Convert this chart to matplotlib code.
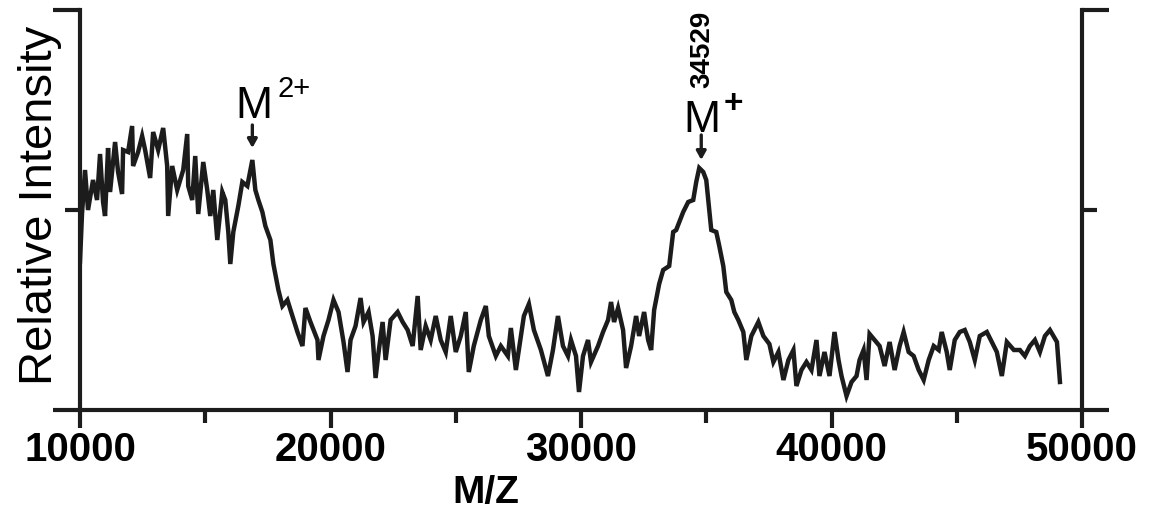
import matplotlib
matplotlib.use("Agg")
import matplotlib.pyplot as plt
from matplotlib.ticker import FixedLocator

plt.rcParams['font.family'] = ['Liberation Sans', 'DejaVu Sans']

# ---- data ----
mz = [10000, 10080, 10200, 10320, 10520, 10680, 10800, 10920, 11000, 11120,
      11200, 11400, 11520, 11680, 11720, 11920, 12080, 12120, 12320, 12480,
      12600, 12800, 12920, 13120, 13320, 13480, 13520, 13680, 13880, 14000,
      14120, 14280, 14320, 14480, 14600, 14720, 14920, 15080, 15200, 15320,
      15480, 15680, 15800, 15920, 16000, 16120, 16320, 16480, 16680, 16880,
      17000, 17120, 17280, 17400, 17600, 17720, 17920, 18080, 18280, 18480,
      18680, 18880, 19000, 19200, 19480, 19520, 19720, 19920, 20120, 20320,
      20520, 20680, 20800, 21000, 21200, 21320, 21520, 21680, 21800, 21920,
      22080, 22200, 22400, 22680, 22880, 23080, 23280, 23480, 23600, 23800,
      24000, 24200, 24400, 24600, 24800, 25000, 25200, 25400, 25520, 25720,
      26000, 26200, 26320, 26600, 26800, 27080, 27200, 27400, 27600, 27720,
      27920, 28120, 28400, 28680, 28880, 29080, 29280, 29480, 29600, 29800,
      29920, 30080, 30280, 30400, 30680, 30880, 31080, 31200, 31320, 31480,
      31680, 31800, 32000, 32200, 32320, 32520, 32680, 32800, 32920, 33120,
      33280, 33520, 33680, 33800, 34080, 34280, 34480, 34600, 34720, 34880,
      35000, 35080, 35200, 35400, 35520, 35680, 35800, 36000, 36120, 36280,
      36480, 36600, 36800, 37080, 37280, 37520, 37680, 37880, 38080, 38280,
      38480, 38600, 38800, 39000, 39200, 39400, 39520, 39720, 39920, 40120,
      40280, 40400, 40600, 40800, 41000, 41120, 41280, 41400, 41520, 41720,
      41920, 42120, 42320, 42520, 42720, 42880, 43080, 43280, 43480, 43680,
      43880, 44080, 44280, 44400, 44600, 44720, 44920, 45120, 45320, 45520,
      45720, 45920, 46200, 46400, 46600, 46800, 47000, 47280, 47520, 47720,
      47920, 48120, 48320, 48520, 48720, 49000, 49120]

intensity = [0.74, 0.98, 1.20, 1.00, 1.15, 1.05, 1.28, 1.04, 0.97, 1.31,
             1.09, 1.34, 1.19, 1.08, 1.30, 1.29, 1.42, 1.22, 1.29, 1.37,
             1.30, 1.16, 1.39, 1.30, 1.41, 1.22, 0.97, 1.22, 1.10, 1.15,
             1.20, 1.38, 1.12, 1.05, 1.27, 0.98, 1.24, 1.10, 0.97, 1.10,
             0.85, 1.09, 1.05, 0.89, 0.73, 0.89, 1.02, 1.14, 1.12, 1.25,
             1.10, 1.05, 0.99, 0.92, 0.85, 0.73, 0.60, 0.52, 0.55, 0.47,
             0.39, 0.32, 0.51, 0.44, 0.35, 0.25, 0.37, 0.45, 0.55, 0.49,
             0.34, 0.19, 0.35, 0.42, 0.56, 0.44, 0.49, 0.37, 0.16, 0.29,
             0.44, 0.25, 0.45, 0.49, 0.44, 0.40, 0.32, 0.57, 0.30, 0.42,
             0.35, 0.47, 0.35, 0.29, 0.47, 0.29, 0.37, 0.49, 0.19, 0.32,
             0.45, 0.52, 0.37, 0.27, 0.32, 0.27, 0.41, 0.20, 0.37, 0.47,
             0.53, 0.40, 0.30, 0.17, 0.30, 0.47, 0.32, 0.27, 0.35, 0.27,
             0.09, 0.27, 0.35, 0.24, 0.32, 0.39, 0.45, 0.54, 0.44, 0.51,
             0.40, 0.21, 0.32, 0.47, 0.37, 0.49, 0.35, 0.30, 0.50, 0.63,
             0.70, 0.72, 0.89, 0.90, 0.99, 1.04, 1.05, 1.14, 1.21, 1.19,
             1.15, 1.05, 0.90, 0.89, 0.82, 0.72, 0.59, 0.55, 0.49, 0.45,
             0.39, 0.25, 0.37, 0.44, 0.37, 0.33, 0.24, 0.29, 0.15, 0.25,
             0.30, 0.12, 0.20, 0.24, 0.20, 0.35, 0.17, 0.29, 0.17, 0.39,
             0.25, 0.17, 0.07, 0.14, 0.17, 0.25, 0.30, 0.15, 0.38, 0.35,
             0.32, 0.22, 0.34, 0.20, 0.32, 0.39, 0.29, 0.27, 0.20, 0.15,
             0.25, 0.32, 0.30, 0.39, 0.29, 0.20, 0.35, 0.39, 0.40, 0.34,
             0.25, 0.37, 0.39, 0.34, 0.29, 0.17, 0.34, 0.30, 0.30, 0.27,
             0.32, 0.35, 0.29, 0.37, 0.40, 0.34, 0.14]

x_major = [10000, 20000, 30000, 40000, 50000]
x_minor = [15000, 25000, 35000, 45000]
x_labels = ['10000', '20000', '30000', '40000', '50000']

peak2_mz, peak2_int = 16880, 1.25
peak1_mz, peak1_int = 34800, 1.21
peak1_label = '34529'

# ---- figure ----
fig = plt.figure(figsize=(11.5, 5.09), dpi=100)
ax = fig.add_axes([80 / 1150, 99 / 509, 1002 / 1150, 400 / 509])

ink = '#1c1c1c'
ax.plot(mz, intensity, color=ink, lw=3.2, solid_joinstyle='miter')

ax.set_xlim(10000, 50000)
ax.set_ylim(0, 2)

for s in ['left', 'right', 'bottom']:
    ax.spines[s].set_linewidth(3.0)
    ax.spines[s].set_color(ink)
ax.spines['top'].set_visible(False)

ax.xaxis.set_major_locator(FixedLocator(x_major))
ax.xaxis.set_minor_locator(FixedLocator(x_minor))
ax.set_xticklabels(x_labels)
ax.tick_params(axis='x', which='major', direction='out', length=13, width=3.0,
               color=ink, pad=2, labelsize=29)
ax.tick_params(axis='x', which='minor', direction='out', length=9.5, width=3.0,
               color=ink)
for lab in ax.get_xticklabels():
    lab.set_fontweight('bold')

ax.yaxis.set_major_locator(FixedLocator([0, 2]))
ax.yaxis.set_minor_locator(FixedLocator([1]))
ax.tick_params(axis='y', which='major', direction='out', length=19.5, width=3.0,
               color=ink, left=True, right=True, labelleft=False, labelright=False)
ax.tick_params(axis='y', which='minor', direction='out', length=10.5, width=3.0,
               color=ink, left=True, right=True)

ax.set_xlabel('M/Z', fontsize=28, fontweight='bold')
ax.xaxis.set_label_coords(0.405, -0.163)

fig.text(40 / 1150, 1 - 205 / 509, 'Relative Intensity', rotation=90,
         ha='center', va='center', fontsize=34)

# ---- annotations ----
arrow_kw = dict(arrowstyle='-|>,head_length=0.5,head_width=0.28', color=ink, lw=2.4,
                shrinkA=0, shrinkB=0)
# M2+
ax.annotate('', xy=(peak2_mz, peak2_int + 0.06), xytext=(peak2_mz, peak2_int + 0.175),
            arrowprops=arrow_kw)
ax.text(peak2_mz + 60, peak2_int + 0.21, 'M', ha='center', va='baseline', fontsize=32)
ax.text(peak2_mz + 1000, peak2_int + 0.315, '2+', ha='left', va='baseline', fontsize=21)

# M+
ax.annotate('', xy=(peak1_mz, peak1_int + 0.04), xytext=(peak1_mz, peak1_int + 0.165),
            arrowprops=arrow_kw)
ax.text(peak1_mz + 40, peak1_int + 0.18, 'M', ha='center', va='baseline', fontsize=32)
ax.text(peak1_mz + 900, peak1_int + 0.32, '+', ha='left', va='center', fontsize=24,
        fontweight='bold')
ax.text(peak1_mz + 40, peak1_int + 0.595, peak1_label, rotation=90, ha='center',
        va='center', fontsize=20, fontweight='bold')

fig.savefig('out.png', dpi=100)
